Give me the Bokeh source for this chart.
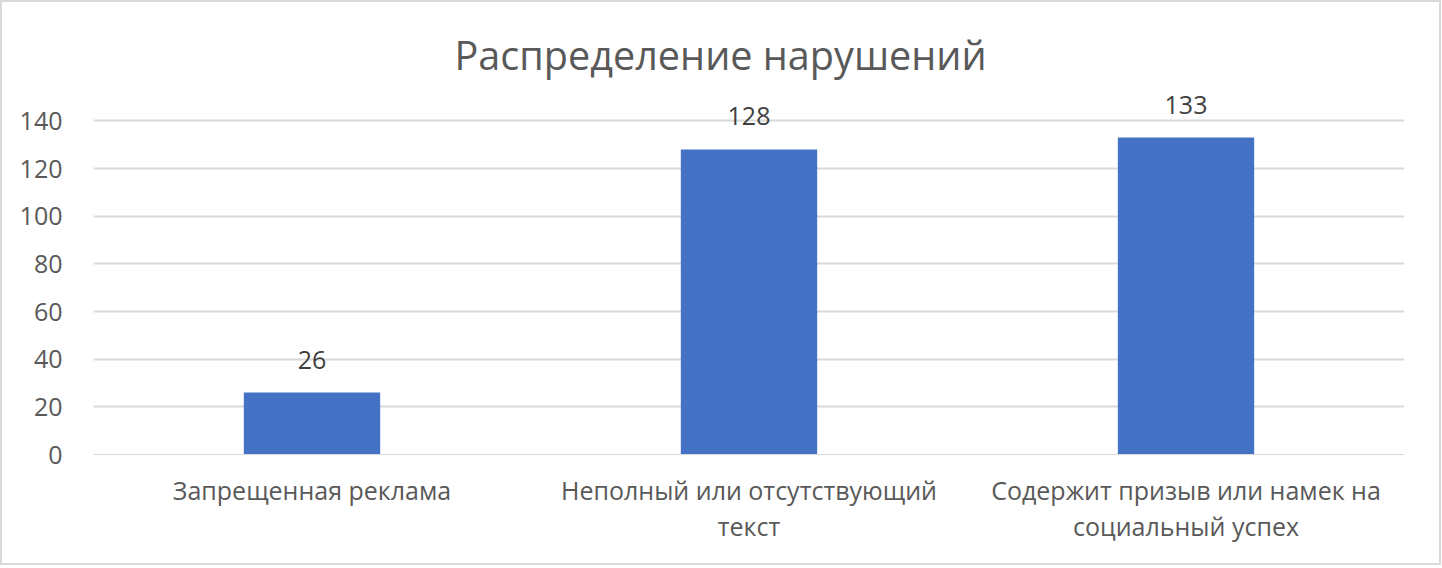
from bokeh.plotting import figure
from bokeh.models import ColumnDataSource, LabelSet, FixedTicker, CategoricalAxis, CustomJSTickFormatter
from bokeh.core.properties import value
from bokeh.embed import file_html
from bokeh.resources import INLINE

categories = ["Запрещенная реклама", "Неполный или отсутствующий текст", "Содержит призыв или намек на социальный успех"]
label_line1 = ["Запрещенная реклама", "Неполный или отсутствующий", "Содержит призыв или намек на"]
label_line2 = ["", "текст", "социальный успех"]
values = [26, 128, 133]
y_ticks = [0, 20, 40, 60, 80, 100, 120, 140]
title_text = "Распределение нарушений"

FONT = "Open Sans"
GRAY = "#595959"
GRID = "#D9D9D9"

source = ColumnDataSource(data=dict(cat=categories, val=values, lbl=[str(v) for v in values]))

p = figure(x_range=categories, y_range=(0, 151.9), width=1441, height=565,
           output_backend="svg", toolbar_location=None,
           min_border_left=91, min_border_right=39, min_border_top=90, min_border_bottom=113)

p.vbar(x="cat", top="val", width=0.312, source=source, fill_color="#4472C4", line_color=None)

labels = LabelSet(x="cat", y="val", text="lbl", source=source, y_offset=33,
                  text_align="center", text_baseline="middle",
                  text_font=value(FONT), text_font_size="25px", text_color="#404040")
p.add_layout(labels)

p.title.text = title_text
p.title.align = "left"
p.title.offset = 361
p.title.text_font = FONT
p.title.text_font_size = "39.6px"
p.title.text_font_style = "normal"
p.title.text_color = GRAY
p.title.standoff = 21

p.yaxis.ticker = FixedTicker(ticks=y_ticks)
p.yaxis.axis_line_color = None
p.yaxis.major_tick_line_color = None
p.yaxis.minor_tick_line_color = None
p.yaxis.major_label_text_font = FONT
p.yaxis.major_label_text_font_size = "25px"
p.yaxis.major_label_text_color = GRAY
p.yaxis.major_label_standoff = 25

code = "const i = cats.indexOf(tick); return i >= 0 ? lines[i] : '';"

ax1 = p.xaxis[0]
ax1.axis_line_color = GRID
ax1.major_tick_line_color = None
ax1.minor_tick_line_color = None
ax1.major_label_text_font = FONT
ax1.major_label_text_font_size = "25px"
ax1.major_label_text_color = GRAY
ax1.major_label_standoff = 12
ax1.formatter = CustomJSTickFormatter(args=dict(cats=categories, lines=label_line1), code=code)

ax2 = CategoricalAxis(axis_line_color=None, major_tick_line_color=None, minor_tick_line_color=None,
                      major_label_text_font=FONT, major_label_text_font_size="25px",
                      major_label_text_color=GRAY, major_label_standoff=-7,
                      formatter=CustomJSTickFormatter(args=dict(cats=categories, lines=label_line2), code=code))
p.add_layout(ax2, "below")

p.xgrid.grid_line_color = None
p.ygrid.grid_line_color = GRID
p.ygrid.grid_line_width = 2
p.outline_line_color = None
p.x_range.range_padding = 0
p.styles = {"border": "2px solid #D9D9D9", "box-sizing": "border-box"}

open("out.html", "w").write(file_html(p, INLINE))
